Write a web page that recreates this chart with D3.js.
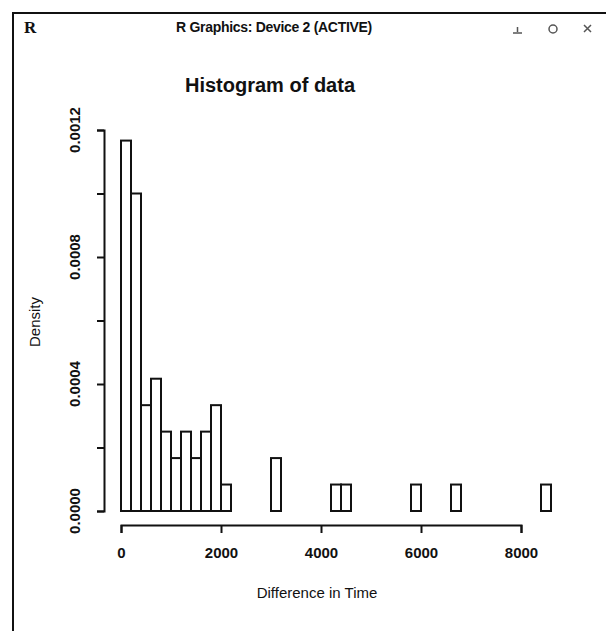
<!DOCTYPE html>
<html>
<head>
<meta charset="utf-8">
<script src="https://cdn.jsdelivr.net/npm/d3@7"></script>
<style>
  body { margin: 0; background: #fff; }
  svg { display: block; }
  text { font-family: 'Liberation Sans', Arial, sans-serif; fill: #111; }
</style>
</head>
<body>
<script>
// histogram counts, one per 200-wide bin starting at 0
const binWidth = 200;
const counts = [
  14, 12, 4, 5, 3, 2, 3, 2, 3, 4, 1, 0, 0, 0, 0, 2, 0, 0, 0, 0, 0, 1,
  1, 0, 0, 0, 0, 0, 0, 1, 0, 0, 0, 1, 0, 0, 0, 0, 0, 0, 0, 0, 1
];
const xTicks = [0, 2000, 4000, 6000, 8000];
const yTicks = [0, 0.0002, 0.0004, 0.0006, 0.0008, 0.001, 0.0012];
const yLabels = [0, 0.0004, 0.0008, 0.0012];

const w = 606;
const h = 631;

const total = d3.sum(counts);
const bins = counts.map((c, i) => ({
  x0: i * binWidth,
  x1: (i + 1) * binWidth,
  density: c / (total * binWidth)
}));

const x = d3.scaleLinear().domain([0, 8000]).range([121, 521]);
const y = d3.scaleLinear().domain([0, 0.0012]).range([511, 130]);

const svg = d3
  .select('body')
  .append('svg')
  .attr('width', w)
  .attr('height', h);

// window frame
svg
  .append('path')
  .attr('d', 'M13,631 V13 H606')
  .style('fill', 'none')
  .style('stroke', '#111')
  .style('stroke-width', 2);

svg
  .append('text')
  .attr('x', 24)
  .attr('y', 33)
  .style('font-family', "'Liberation Serif', serif")
  .style('font-weight', 'bold')
  .style('font-size', '17px')
  .text('R');

svg
  .append('text')
  .attr('x', 274)
  .attr('y', 32)
  .attr('text-anchor', 'middle')
  .style('font-weight', 'bold')
  .style('font-size', '14px')
  .style('letter-spacing', '-0.3px')
  .text('R Graphics: Device 2 (ACTIVE)');

// window buttons
const icons = svg
  .append('g')
  .style('fill', 'none')
  .style('stroke', '#555')
  .style('stroke-width', 1.5);
icons.append('path').attr('d', 'M513,33 h9 M517.5,27 v5');
icons.append('circle').attr('cx', 553).attr('cy', 29).attr('r', 4);
icons.append('path').attr('d', 'M584,25 l7,7 M591,25 l-7,7');

// bars
svg
  .append('g')
  .selectAll('rect')
  .data(bins)
  .enter()
  .append('rect')
  .attr('x', (d) => x(d.x0))
  .attr('y', (d) => y(d.density))
  .attr('width', (d) => x(d.x1) - x(d.x0))
  .attr('height', (d) => y(0) - y(d.density))
  .style('fill', '#fff')
  .style('stroke', '#111')
  .style('stroke-width', 2);

// x axis
const xAxis = d3
  .axisBottom(x)
  .tickValues(xTicks)
  .tickSize(8)
  .tickPadding(14)
  .tickFormat(d3.format('d'));

svg
  .append('g')
  .attr('transform', 'translate(0, 525)')
  .call(xAxis)
  .call((g) => g.selectAll('path, line').attr('stroke', '#111').attr('stroke-width', 2))
  .call((g) =>
    g
      .selectAll('text')
      .attr('fill', '#111')
      .style('font-size', '15px')
      .style('font-weight', 'bold')
      .style('font-family', "'Liberation Sans', Arial, sans-serif")
  );

// y axis
const yAxis = d3.axisLeft(y).tickValues(yTicks).tickSize(7).tickFormat('');

svg
  .append('g')
  .attr('transform', 'translate(104, 0)')
  .call(yAxis)
  .call((g) => g.selectAll('path, line').attr('stroke', '#111').attr('stroke-width', 2));

svg
  .append('g')
  .selectAll('text')
  .data(yLabels)
  .enter()
  .append('text')
  .attr('transform', (d) => `translate(80, ${y(d)}) rotate(-90)`)
  .attr('text-anchor', 'middle')
  .style('font-size', '15px')
  .style('font-weight', 'bold')
  .text((d) => d3.format('.4f')(d));

// titles
svg
  .append('text')
  .attr('x', 270)
  .attr('y', 92)
  .attr('text-anchor', 'middle')
  .style('font-size', '20px')
  .style('font-weight', 'bold')
  .text('Histogram of data');

svg
  .append('text')
  .attr('x', 317)
  .attr('y', 598)
  .attr('text-anchor', 'middle')
  .style('font-size', '15px')
  .text('Difference in Time');

svg
  .append('text')
  .attr('transform', 'translate(40, 322) rotate(-90)')
  .attr('text-anchor', 'middle')
  .style('font-size', '15px')
  .text('Density');
</script>
</body>
</html>
